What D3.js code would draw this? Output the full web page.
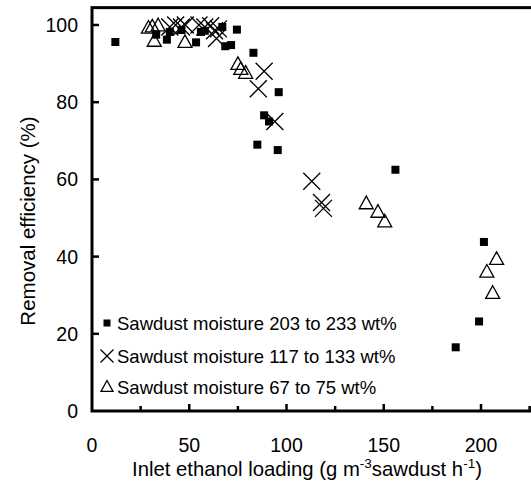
<!DOCTYPE html>
<html>
<head>
<meta charset="utf-8">
<script src="https://cdn.jsdelivr.net/npm/d3@7"></script>
<style>
  body { margin: 0; background: #fff; }
  svg { display: block; font-family: "Liberation Sans", Arial, sans-serif; }
</style>
</head>
<body>
<div id="chart"></div>
<script>
// Moisture 203 to 233 wt% (filled squares)
const highX = [12, 33, 38.5, 40, 46, 53.5, 56, 58, 67, 68.5, 71.5, 74.5, 83, 96, 88.5, 91, 85, 95.5, 156, 201.5, 199, 187];
const highY = [95.6, 97.5, 96.2, 98.2, 98.7, 95.5, 98.2, 98.5, 99.5, 94.5, 94.8, 98.8, 92.8, 82.6, 76.6, 75, 69, 67.6, 62.5, 43.8, 23.2, 16.5];

// Moisture 117 to 133 wt% (crosses)
const midX = [40, 43, 46, 48, 55, 58, 61, 63, 64, 65, 88.5, 85.5, 94, 113, 118, 119];
const midY = [99.5, 100, 99.5, 100, 100, 99.5, 99.8, 98.5, 96.5, 99, 88, 83.5, 75, 59.5, 54, 52.5];

// Moisture 67 to 75 wt% (open triangles)
const lowX = [29, 31, 34, 32, 47.8, 75, 76.5, 79, 141, 147, 150.5, 208, 203, 206];
const lowY = [99.2, 99.5, 99.8, 95.8, 95.5, 89.8, 88.5, 87.5, 53.7, 51.5, 49, 39.3, 36, 30.5];

const legendLabels = [
    "Sawdust moisture 203 to 233 wt%",
    "Sawdust moisture 117 to 133 wt%",
    "Sawdust moisture 67 to 75 wt%"
];

const xTicks = [0, 50, 100, 150, 200];
const yTicks = [0, 20, 40, 60, 80, 100];

const width = 531, height = 481;

const svg = d3.select("#chart").append("svg")
    .attr("width", width)
    .attr("height", height);

const x = d3.scaleLinear().domain([0, 200]).range([92, 481]);
const y = d3.scaleLinear().domain([0, 100]).range([411, 25]);

// frame (right side runs off the page)
svg.append("rect")
    .attr("x", x(0))
    .attr("y", y(104.5))
    .attr("width", x(240) - x(0))
    .attr("height", y(0) - y(104.5))
    .style("fill", "none")
    .style("stroke", "#000")
    .style("stroke-width", 3);

// x ticks (inward), minor every 25
svg.append("g")
    .selectAll("line")
    .data(d3.range(25, 250, 25))
    .enter()
    .append("line")
    .attr("x1", d => x(d))
    .attr("x2", d => x(d))
    .attr("y1", y(0))
    .attr("y2", d => y(0) - (d % 50 === 0 ? 7 : 5))
    .style("stroke", "#000")
    .style("stroke-width", 2.5);

// y ticks (inward)
svg.append("g")
    .selectAll("line")
    .data(yTicks.slice(1))
    .enter()
    .append("line")
    .attr("x1", x(0))
    .attr("x2", x(0) + 7)
    .attr("y1", d => y(d))
    .attr("y2", d => y(d))
    .style("stroke", "#000")
    .style("stroke-width", 2.5);

// tick labels
svg.append("g")
    .selectAll("text")
    .data(xTicks)
    .enter()
    .append("text")
    .attr("x", d => x(d))
    .attr("y", 452)
    .style("text-anchor", "middle")
    .style("font-size", "19.5px")
    .text(d => d);

svg.append("g")
    .selectAll("text")
    .data(yTicks)
    .enter()
    .append("text")
    .attr("x", 78)
    .attr("y", d => y(d) + 7)
    .style("text-anchor", "end")
    .style("font-size", "19.5px")
    .text(d => d);

// axis titles
const xt = svg.append("text")
    .attr("x", 307)
    .attr("y", 476)
    .style("text-anchor", "middle")
    .style("font-size", "20.3px");
xt.append("tspan").text("Inlet ethanol loading (g m");
xt.append("tspan").attr("dy", -8).style("font-size", "13.5px").text("-3");
xt.append("tspan").attr("dy", 8).text("sawdust h");
xt.append("tspan").attr("dy", -8).style("font-size", "13.5px").text("-1");
xt.append("tspan").attr("dy", 8).text(")");

svg.append("text")
    .attr("transform", `translate(35,221) rotate(-90)`)
    .style("text-anchor", "middle")
    .style("font-size", "20.5px")
    .text("Removal efficiency (%)");

// marker drawers
function drawSquare(g, cx, cy, s) {
    g.append("rect")
        .attr("x", cx - s / 2).attr("y", cy - s / 2)
        .attr("width", s).attr("height", s)
        .style("fill", "#000");
}
function drawCross(g, cx, cy, s) {
    g.append("path")
        .attr("d", `M${cx - s / 2},${cy - s / 2}L${cx + s / 2},${cy + s / 2}M${cx - s / 2},${cy + s / 2}L${cx + s / 2},${cy - s / 2}`)
        .style("stroke", "#000").style("stroke-width", 1.3).style("fill", "none");
}
function drawTriangle(g, cx, cy, s) {
    const h = s * 0.9;
    g.append("path")
        .attr("d", `M${cx},${cy - h * 0.6}L${cx + s / 2},${cy + h * 0.4}L${cx - s / 2},${cy + h * 0.4}Z`)
        .style("stroke", "#000").style("stroke-width", 1.3).style("fill", "none");
}

const marks = svg.append("g");
lowX.forEach((v, i) => drawTriangle(marks, x(v), y(lowY[i]), 14));
midX.forEach((v, i) => drawCross(marks, x(v), y(midY[i]), 17));
highX.forEach((v, i) => drawSquare(marks, x(v), y(highY[i]), 8));

// legend
const legend = svg.append("g");
const legY = [323, 356, 387];
drawSquare(legend, 107, legY[0], 7);
drawCross(legend, 107, legY[1], 13);
drawTriangle(legend, 107, legY[2], 12);
legend.selectAll("text")
    .data(legendLabels)
    .enter()
    .append("text")
    .attr("x", 117)
    .attr("y", (d, i) => legY[i] + 7)
    .style("font-size", "18.5px")
    .text(d => d);
</script>
</body>
</html>
